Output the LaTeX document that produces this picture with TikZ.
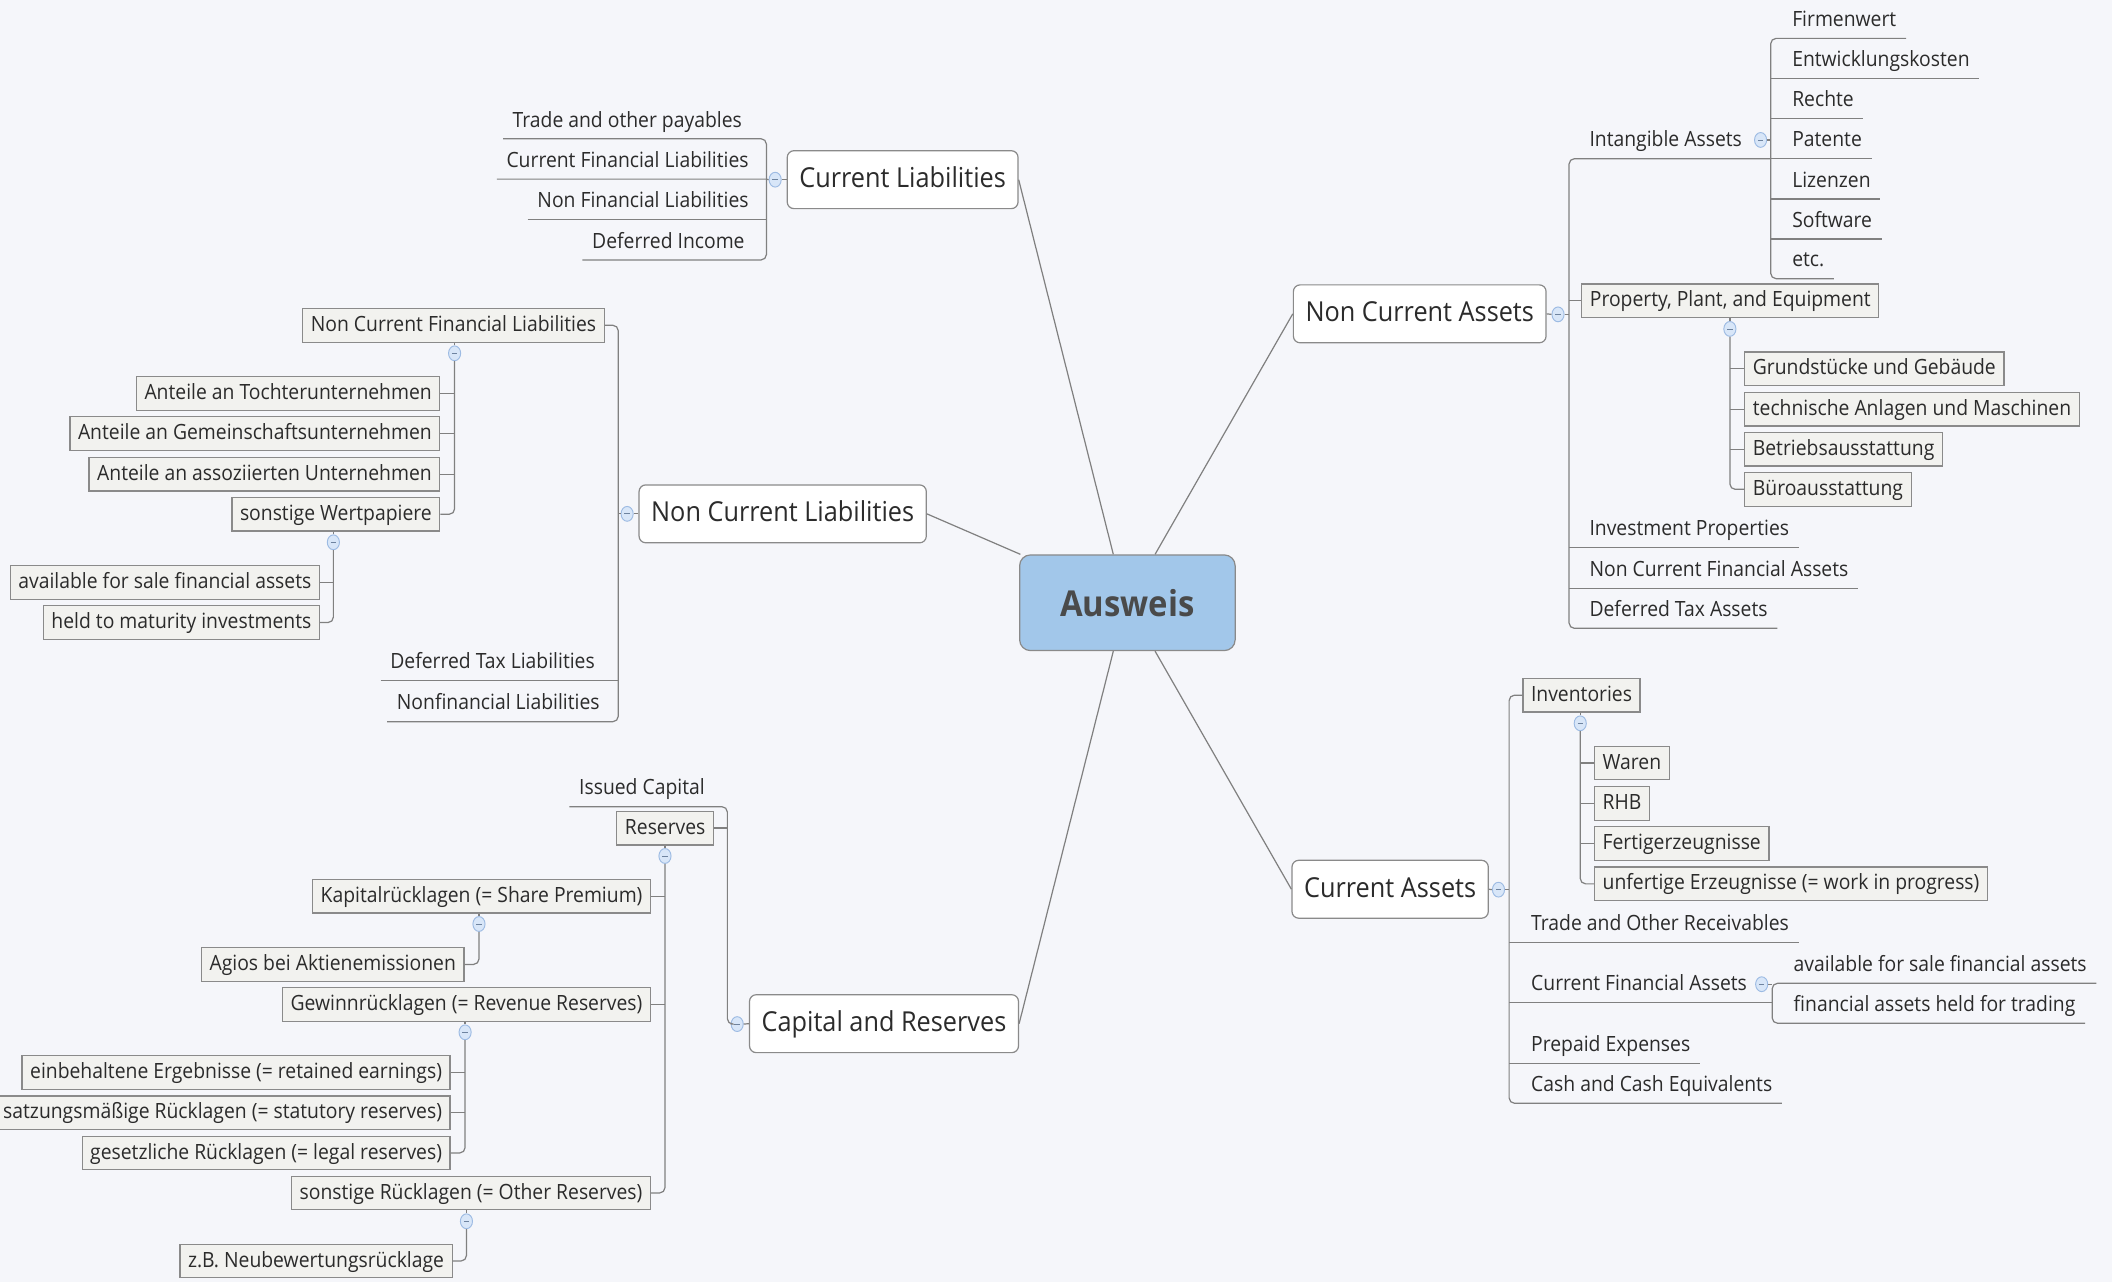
\documentclass[tikz,border=0pt]{standalone}
\usepackage{fontspec}
\setmainfont{Open Sans}[FakeStretch=0.92]
\usetikzlibrary{shapes.geometric,calc}
\definecolor{bg}{HTML}{F5F6FA}
\definecolor{lc}{HTML}{808080}
\definecolor{bc}{HTML}{8A8A8A}
\definecolor{bf}{HTML}{F2F2EF}
\definecolor{tc}{HTML}{2B2B2B}
\definecolor{cf}{HTML}{A2C7EA}
\definecolor{auscol}{HTML}{4A4A4A}
\definecolor{mkf}{HTML}{D8E6F8}
\definecolor{mkd}{HTML}{9DBBE3}
\begin{document}
\begin{tikzpicture}[x=1pt,y=-1pt,
 ln/.style={draw=lc,line width=0.9pt},
 rc/.style={rounded corners=4pt},
 leaf/.style={font=\fontsize{15.6}{18}\selectfont, text=tc, inner xsep=7pt, inner ysep=0pt, text height=11pt, text depth=8.5pt},
 cbox/.style={font=\fontsize{15.6}{18}\selectfont, text=tc, draw=bc, fill=bf, line width=0.9pt, inner xsep=6pt, inner ysep=0pt, text height=11pt, text depth=2pt, minimum height=25pt},
 mbox/.style={font=\fontsize{20.4}{23}\selectfont, text=tc, draw=bc, fill=white, line width=0.9pt, rounded corners=5pt, inner xsep=9pt, inner ysep=0pt, text height=14.5pt, text depth=3pt, minimum height=43pt},
 mk/.style={ellipse, draw=mkd, fill=mkf, line width=0.7pt, minimum width=9pt, minimum height=11pt, inner sep=0pt,
   path picture={\draw[mkd!70!black, line width=0.6pt] ([xshift=-2pt]path picture bounding box.center) -- ([xshift=2pt]path picture bounding box.center);}},
]
\fill[bg] (0,0) rectangle (1568,951.7);
\useasboundingbox (0,0) rectangle (1568,951.7);

% ---------- centre and main branches
\node[draw=bc, fill=cf, line width=0.9pt, rounded corners=8pt, minimum width=160pt, minimum height=71pt,
  font=\bfseries\fontsize{26.5}{30}\selectfont, text=auscol] (aus) at (837,447.5) {Ausweis};

\node[mbox, anchor=west] (cl) at (584,133.4) {Current Liabilities};
\node[mbox, anchor=west] (ncl) at (474,381.5) {Non Current Liabilities};
\node[mbox, anchor=west] (cr) at (556,760) {Capital and Reserves};
\node[mbox, anchor=east] (nca) at (1148.3,233) {Non Current Assets};
\node[mbox, anchor=east] (ca) at (1105.4,660.2) {Current Assets};

\draw[ln] (cl.east) -- ([xshift=70pt]aus.north west);
\draw[ln] (ncl.east) -- ([xshift=1pt]aus.north west);
\draw[ln] (cr.east) -- ([xshift=70pt]aus.south west);
\draw[ln] (nca.west) -- ([xshift=101pt]aus.north west);
\draw[ln] (ca.west) -- ([xshift=101pt]aus.south west);

% ---------- Current Liabilities
\coordinate (clt) at (569,0);
\node[leaf, anchor=south east] (cl1) at (558,103) {Trade and other payables};
\node[leaf, anchor=south east] (cl2) at (563,133) {Current Financial Liabilities};
\node[leaf, anchor=south east] (cl3) at (563,163) {Non Financial Liabilities};
\node[leaf, anchor=south east] (cl4) at (560,193) {Deferred Income};
\node[mk] (clm) at (575.5,133.4) {};
\draw[ln,rc] (cl1.south west) -- (cl1.south -| clt) -- (cl4.south -| clt) -- (cl4.south west);
\draw[ln] (cl2.south west) -- (cl2.south -| clt) -- (clm.west);
\draw[ln] (cl3.south west) -- (cl3.south -| clt);
\draw[ln] (clm.east) -- (cl.west);

% ---------- Non Current Liabilities
\coordinate (nclt) at (459,0);
\node[cbox, anchor=east] (ncfl) at (449,241.5) {Non Current Financial Liabilities};
\node[mk] (nclm) at (465.6,381.5) {};
\node[leaf, anchor=south east] (dtl) at (448.8,505.3) {Deferred Tax Liabilities};
\node[leaf, anchor=south east] (nfl) at (452.4,535.8) {Nonfinancial Liabilities};
\draw[ln,rc] (ncfl.east) -- (ncfl.east -| nclt) -- (nfl.south -| nclt) -- (nfl.south west);
\draw[ln] (dtl.south west) -- (dtl.south -| nclt);
\draw[ln] (nclm.west -| nclt) -- (nclm.west);
\draw[ln] (nclm.east) -- (ncl.west);

\node[mk] (ncflm) at (337.5,262.3) {};
\node[cbox, anchor=east] (a1) at (327,292.2) {Anteile an Tochterunternehmen};
\node[cbox, anchor=east] (a2) at (327,322) {Anteile an Gemeinschaftsunternehmen};
\node[cbox, anchor=east] (a3) at (327,352) {Anteile an assoziierten Unternehmen};
\node[cbox, anchor=east] (a4) at (327,381.8) {sonstige Wertpapiere};
\draw[ln] (ncfl.south -| ncflm) -- (ncflm.north);
\draw[ln,rc] (ncflm.south) -- (ncflm.south |- a4.east) -- (a4.east);
\draw[ln] (a1.east) -- (a1.east -| ncflm);
\draw[ln] (a2.east) -- (a2.east -| ncflm);
\draw[ln] (a3.east) -- (a3.east -| ncflm);

\node[mk] (a4m) at (247.5,402.6) {};
\node[cbox, anchor=east] (b1) at (237.6,432.3) {available for sale financial assets};
\node[cbox, anchor=east] (b2) at (237.6,462.2) {held to maturity investments};
\draw[ln] (a4.south -| a4m) -- (a4m.north);
\draw[ln,rc] (a4m.south) -- (a4m.south |- b2.east) -- (b2.east);
\draw[ln] (b1.east) -- (b1.east -| a4m);

% ---------- Capital and Reserves
\coordinate (crt) at (540,0);
\node[leaf, anchor=south east] (ic) at (530.4,598.9) {Issued Capital};
\node[cbox, anchor=east] (res) at (530.2,614.8) {Reserves};
\node[mk] (crm) at (547.3,760.3) {};
\draw[ln,rc] (ic.south west) -- (ic.south -| crt) -- (crm.west -| crt) -- (crm.west);
\draw[ln] (res.east) -- (res.east -| crt);
\draw[ln] (crm.east) -- (cr.west);

\node[mk] (resm) at (493.7,635.5) {};
\node[cbox, anchor=east] (kr) at (483.4,665.3) {Kapitalrücklagen (= Share Premium)};
\node[cbox, anchor=east] (gr) at (483.4,745.9) {Gewinnrücklagen (= Revenue Reserves)};
\node[cbox, anchor=east] (sr) at (483.4,885.7) {sonstige Rücklagen (= Other Reserves)};
\draw[ln] (res.south -| resm) -- (resm.north);
\draw[ln,rc] (resm.south) -- (resm.south |- sr.east) -- (sr.east);
\draw[ln] (kr.east) -- (kr.east -| resm);
\draw[ln] (gr.east) -- (gr.east -| resm);

\node[mk] (krm) at (355.6,686) {};
\node[cbox, anchor=east] (ag) at (344.9,716) {Agios bei Aktienemissionen};
\draw[ln] (kr.south -| krm) -- (krm.north);
\draw[ln,rc] (krm.south) -- (krm.south |- ag.east) -- (ag.east);

\node[mk] (grm) at (345.3,766.4) {};
\node[cbox, anchor=east] (g1) at (334.6,796.1) {einbehaltene Ergebnisse (= retained earnings)};
\node[cbox, anchor=east] (g2) at (334.6,826.2) {satzungsmäßige Rücklagen (= statutory reserves)};
\node[cbox, anchor=east] (g3) at (334.6,856) {gesetzliche Rücklagen (= legal reserves)};
\draw[ln] (gr.south -| grm) -- (grm.north);
\draw[ln,rc] (grm.south) -- (grm.south |- g3.east) -- (g3.east);
\draw[ln] (g1.east) -- (g1.east -| grm);
\draw[ln] (g2.east) -- (g2.east -| grm);

\node[mk] (srm) at (346.3,906.7) {};
\node[cbox, anchor=east] (zb) at (336.1,936.2) {z.B. Neubewertungsrücklage};
\draw[ln] (sr.south -| srm) -- (srm.north);
\draw[ln,rc] (srm.south) -- (srm.south |- zb.east) -- (zb.east);

% ---------- Non Current Assets
\coordinate (ncat) at (1164.9,0);
\coordinate (iat) at (1314.6,0);
\node[mk] (ncam) at (1156.7,233.4) {};
\node[leaf, anchor=south west] (ia) at (1172.9,117.8) {Intangible Assets};
\node[cbox, anchor=west] (ppe) at (1173.9,223.3) {Property, Plant, and Equipment};
\node[leaf, anchor=south west] (ip) at (1172.9,406.6) {Investment Properties};
\node[leaf, anchor=south west] (ncfa) at (1172.9,436.8) {Non Current Financial Assets};
\node[leaf, anchor=south west] (dta) at (1172.9,466.5) {Deferred Tax Assets};
\draw[ln] (nca.east) -- (ncam.west);
\draw[ln] (ncam.east) -- (ncam.east -| ncat);
\draw[ln,rc] (ia.south -| iat) -- (ia.south -| ncat) -- (dta.south -| ncat) -- (dta.south east);
\draw[ln] (ppe.west -| ncat) -- (ppe.west);
\draw[ln] (ip.south -| ncat) -- (ip.south east);
\draw[ln] (ncfa.south -| ncat) -- (ncfa.south east);

\node[mk] (iam) at (1307.1,103.9) {};
\node[leaf, anchor=south west] (i1) at (1323.4,28.5) {Firmenwert};
\node[leaf, anchor=south west] (i2) at (1323.4,58.2) {Entwicklungskosten};
\node[leaf, anchor=south west] (i3) at (1323.4,87.8) {Rechte};
\node[leaf, anchor=south west] (i4) at (1323.4,117.8) {Patente};
\node[leaf, anchor=south west] (i5) at (1323.4,147.7) {Lizenzen};
\node[leaf, anchor=south west] (i6) at (1323.4,177.4) {Software};
\node[leaf, anchor=south west] (i7) at (1323.4,206.9) {etc.};
\draw[ln,rc] (i1.south east) -- (i1.south -| iat) -- (i7.south -| iat) -- (i7.south east);
\draw[ln] (i2.south -| iat) -- (i2.south east);
\draw[ln] (i3.south -| iat) -- (i3.south east);
\draw[ln] (i4.south -| iat) -- (i4.south east);
\draw[ln] (i5.south -| iat) -- (i5.south east);
\draw[ln] (i6.south -| iat) -- (i6.south east);
\draw[ln] (iam.east) -- (iam.east -| iat);

\node[mk] (ppem) at (1284.3,244.2) {};
\node[cbox, anchor=west] (p1) at (1294.9,273.8) {Grundstücke und Gebäude};
\node[cbox, anchor=west] (p2) at (1294.9,303.8) {technische Anlagen und Maschinen};
\node[cbox, anchor=west] (p3) at (1294.9,333.5) {Betriebsausstattung};
\node[cbox, anchor=west] (p4) at (1294.9,363.3) {Büroausstattung};
\draw[ln] (ppe.south -| ppem) -- (ppem.north);
\draw[ln,rc] (ppem.south) -- (ppem.south |- p4.west) -- (p4.west);
\draw[ln] (p1.west -| ppem) -- (p1.west);
\draw[ln] (p2.west -| ppem) -- (p2.west);
\draw[ln] (p3.west -| ppem) -- (p3.west);

% ---------- Current Assets
\coordinate (cat) at (1120.4,0);
\coordinate (cfat) at (1315.7,0);
\node[mk] (cam) at (1112.5,660.5) {};
\node[cbox, anchor=west] (inv) at (1130.2,516.1) {Inventories};
\node[leaf, anchor=south west] (tor) at (1129.6,699.8) {Trade and Other Receivables};
\node[leaf, anchor=south west] (cfa) at (1129.6,744.4) {Current Financial Assets};
\node[leaf, anchor=south west] (pe) at (1129.6,789.4) {Prepaid Expenses};
\node[leaf, anchor=south west] (cash) at (1129.6,819.1) {Cash and Cash Equivalents};
\draw[ln] (ca.east) -- (cam.west);
\draw[ln] (cam.east) -- (cam.east -| cat);
\draw[ln,rc] (inv.west) -- (inv.west -| cat) -- (cash.south -| cat) -- (cash.south east);
\draw[ln] (tor.south -| cat) -- (tor.south east);
\draw[ln] (cfa.south -| cat) -- (cfa.south -| cfat);
\draw[ln] (pe.south -| cat) -- (pe.south east);

\node[mk] (invm) at (1173.2,537) {};
\node[cbox, anchor=west] (v1) at (1183.4,566.5) {Waren};
\node[cbox, anchor=west] (v2) at (1183.4,596.4) {RHB};
\node[cbox, anchor=west] (v3) at (1183.4,626.3) {Fertigerzeugnisse};
\node[cbox, anchor=west] (v4) at (1183.4,656.2) {unfertige Erzeugnisse (= work in progress)};
\draw[ln] (inv.south -| invm) -- (invm.north);
\draw[ln,rc] (invm.south) -- (invm.south |- v4.west) -- (v4.west);
\draw[ln] (v1.west -| invm) -- (v1.west);
\draw[ln] (v2.west -| invm) -- (v2.west);
\draw[ln] (v3.west -| invm) -- (v3.west);

\node[mk] (cfam) at (1307.9,730.7) {};
\node[leaf, anchor=south west] (av) at (1324.5,730) {available for sale financial assets};
\node[leaf, anchor=south west] (hf) at (1324.5,759.7) {financial assets held for trading};
\draw[ln,rc] (av.south east) -- (av.south -| cfat) -- (hf.south -| cfat) -- (hf.south east);
\draw[ln] (cfam.east) -- (cfam.east -| cfat);
\end{tikzpicture}
\end{document}
